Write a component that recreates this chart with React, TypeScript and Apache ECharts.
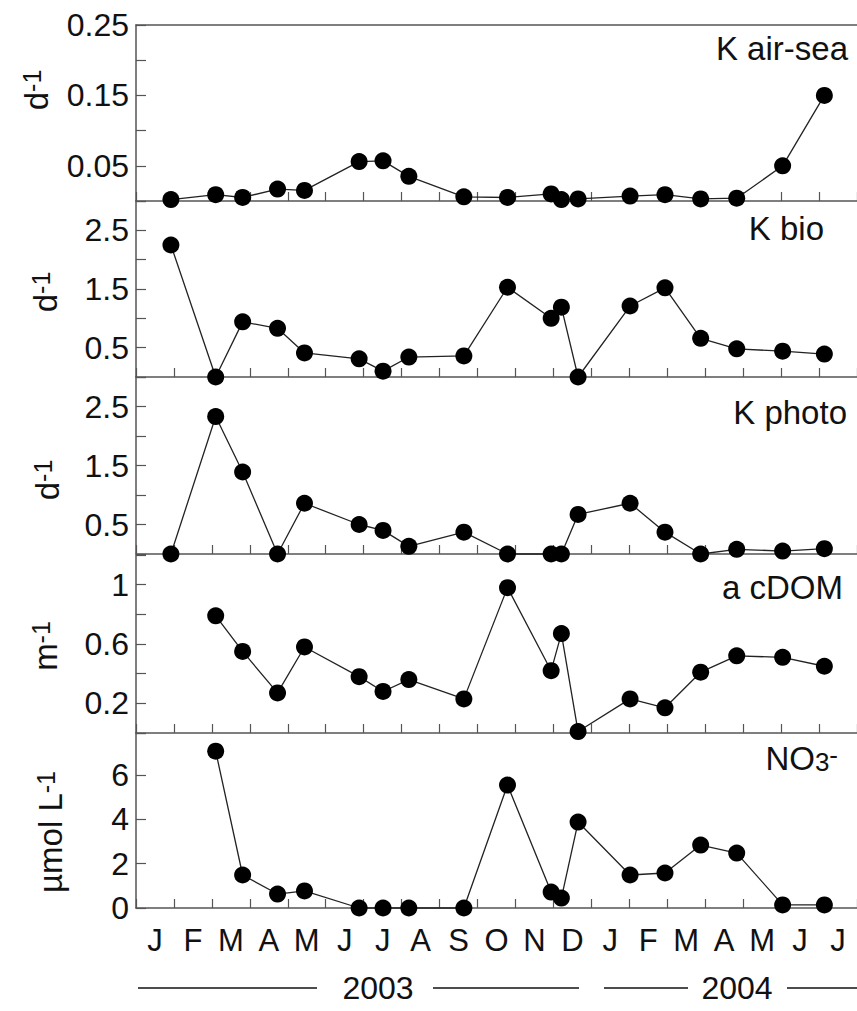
import React, { useEffect, useRef } from 'react';
import * as echarts from 'echarts';

// Month initials, Jan 2003 .. Jul 2004
const monthLabels = ['J', 'F', 'M', 'A', 'M', 'J', 'J', 'A', 'S', 'O', 'N', 'D', 'J', 'F', 'M', 'A', 'M', 'J', 'J'];
// Sampling dates, in months since 1 Jan 2003
const sampleMonths = [0.92, 2.1, 2.81, 3.73, 4.44, 5.88, 6.51, 7.19, 8.64, 9.79, 10.94, 11.21, 11.65, 13.02, 13.94, 14.88, 15.83, 17.04, 18.14];
const kAirSea = [0.002, 0.009, 0.005, 0.017, 0.015, 0.056, 0.057, 0.035, 0.006, 0.005, 0.01, 0.002, 0.003, 0.007, 0.009, 0.003, 0.004, 0.05, 0.15];
const kBio = [2.25, 0.0, 0.94, 0.83, 0.41, 0.31, 0.1, 0.34, 0.36, 1.53, 1.0, 1.19, 0.0, 1.21, 1.52, 0.66, 0.48, 0.44, 0.39];
const kPhoto = [0.0, 2.33, 1.39, 0.0, 0.86, 0.5, 0.4, 0.13, 0.37, 0.0, 0.0, 0.0, 0.67, 0.86, 0.37, 0.0, 0.08, 0.05, 0.09];
const aCDOM = [null, 0.79, 0.55, 0.27, 0.58, 0.38, 0.28, 0.36, 0.23, 0.98, 0.42, 0.67, 0.01, 0.23, 0.17, 0.41, 0.52, 0.51, 0.45];
const nitrate = [null, 7.08, 1.49, 0.63, 0.77, 0.0, 0.0, 0.0, 0.0, 5.55, 0.72, 0.45, 3.88, 1.49, 1.58, 2.84, 2.48, 0.14, 0.14];
const yearLabels = ['2003', '2004'];

const FONT = '"Liberation Sans", Arial, Helvetica, sans-serif';
const AXIS_COLOR = '#555';
const TEXT_COLOR = '#111';

const panels = [
  { values: kAirSea, top: 25, height: 176, max: 0.25, interval: 0.05, digits: 2, show: (k: number) => k % 2 === 1 },
  { values: kBio, top: 201, height: 176, max: 3, interval: 0.5, digits: 1, show: (k: number) => k % 2 === 1 },
  { values: kPhoto, top: 377, height: 177, max: 3, interval: 0.5, digits: 1, show: (k: number) => k % 2 === 1 },
  { values: aCDOM, top: 555, height: 178, max: 1.2, interval: 0.2, digits: 1, show: (k: number) => k % 2 === 1 },
  { values: nitrate, top: 733, height: 175, max: 7.9, interval: 2, digits: 0, show: (k: number) => k <= 3 },
];

const GRID_LEFT = 136;
const MONTH_W = 38.1;

export default function App() {
  const ref = useRef<HTMLDivElement>(null);
  useEffect(() => {
    if (!ref.current) return;
    const chart = echarts.init(ref.current, undefined, { renderer: 'svg' });

    const grids = panels.map((p) => ({ left: GRID_LEFT, top: p.top, height: p.height, width: MONTH_W * 19 }));

    const xAxes: any[] = panels.map((_, i) => ({
      gridIndex: i,
      type: 'value',
      min: 0,
      max: 19,
      interval: 1,
      axisLine: { show: true, lineStyle: { color: AXIS_COLOR, width: 1.5 } },
      axisTick: { show: true, inside: true, length: 9, lineStyle: { color: AXIS_COLOR, width: 1.2 } },
      axisLabel: { show: false },
      splitLine: { show: false },
    }));
    xAxes.push({
      gridIndex: 0,
      type: 'value',
      position: 'top',
      min: 0,
      max: 19,
      axisLine: { show: true, lineStyle: { color: AXIS_COLOR, width: 1.5 } },
      axisTick: { show: false },
      axisLabel: { show: false },
      splitLine: { show: false },
    });
    xAxes.push({
      gridIndex: 4,
      type: 'category',
      position: 'bottom',
      data: monthLabels,
      boundaryGap: true,
      axisLine: { show: false },
      axisTick: { show: false },
      axisLabel: { show: true, interval: 0, margin: 17, fontSize: 31, fontFamily: FONT, color: TEXT_COLOR },
    });

    const yAxes = panels.map((p, i) => ({
      gridIndex: i,
      type: 'value',
      min: 0,
      max: p.max,
      interval: p.interval,
      axisLine: { show: true, lineStyle: { color: AXIS_COLOR, width: 1.5 } },
      axisTick: { show: true, inside: true, length: 10, lineStyle: { color: AXIS_COLOR, width: 1.2 } },
      splitLine: { show: false },
      axisLabel: {
        show: true,
        margin: 7,
        fontSize: 32,
        fontFamily: FONT,
        color: TEXT_COLOR,
        formatter: (v: number) => {
          const k = Math.round(v / p.interval);
          if (Math.abs(v - k * p.interval) > 1e-6) return '';
          if (!p.show(k)) return '';
          if (i === 3 && k === 5) return '1';
          return v.toFixed(p.digits);
        },
      },
    }));

    const series = panels.map((p, i) => ({
      type: 'line',
      xAxisIndex: i,
      yAxisIndex: i,
      clip: false,
      symbol: 'circle',
      symbolSize: 17,
      itemStyle: { color: '#000' },
      lineStyle: { color: '#222', width: 1.3 },
      data: sampleMonths
        .map((m, j) => [m, p.values[j]])
        .filter((d) => d[1] !== null && d[1] !== undefined),
    }));

    const panelText = (text: string, x: number, y: number, rich?: any) => ({
      type: 'text',
      x,
      y,
      style: {
        text,
        fontSize: 33,
        fontFamily: FONT,
        fill: TEXT_COLOR,
        align: 'right',
        verticalAlign: 'middle',
        rich,
      },
    });

    const supRich = {
      a: { fontSize: 33, fontFamily: FONT, color: TEXT_COLOR, verticalAlign: 'bottom' },
      b: { fontSize: 25, fontFamily: FONT, color: TEXT_COLOR, verticalAlign: 'top' },
    };
    const axisName = (text: string, x: number, y: number) => ({
      type: 'text',
      x,
      y,
      rotation: Math.PI / 2,
      style: {
        text,
        fontFamily: FONT,
        fill: TEXT_COLOR,
        align: 'center',
        verticalAlign: 'middle',
        rich: supRich,
      },
    });

    const lineY = 988;
    const hLine = (x1: number, x2: number) => ({
      type: 'line',
      shape: { x1, y1: lineY, x2, y2: lineY },
      style: { stroke: '#111', lineWidth: 1.3 },
    });
    const yearText = (text: string, x: number) => ({
      type: 'text',
      x,
      y: lineY,
      style: { text, fontSize: 32, fontFamily: FONT, fill: TEXT_COLOR, align: 'center', verticalAlign: 'middle' },
    });

    const graphic = [
      panelText('K air-sea', 848, 48),
      panelText('K bio', 824, 228),
      panelText('K photo', 847, 412),
      panelText('a cDOM', 843, 587),
      panelText('{a|NO}{s|3}{t|-}', 838, 758, {
        a: { fontSize: 33, fontFamily: FONT, color: TEXT_COLOR, verticalAlign: 'bottom' },
        s: { fontSize: 26, fontFamily: FONT, color: TEXT_COLOR, verticalAlign: 'bottom' },
        t: { fontSize: 26, fontFamily: FONT, color: TEXT_COLOR, verticalAlign: 'top' },
      }),
      axisName('{a|d}{b|-1}', 36, 90),
      axisName('{a|d}{b|-1}', 45, 292),
      axisName('{a|d}{b|-1}', 47, 480),
      axisName('{a|m}{b|-1}', 45, 646),
      axisName('{a|µmol L}{b|-1}', 50, 832),
      hLine(138, 317),
      hLine(433, 579),
      hLine(604, 688),
      hLine(787, 857),
      yearText(yearLabels[0], 378),
      yearText(yearLabels[1], 737),
    ];

    chart.setOption({
      animation: false,
      backgroundColor: '#fff',
      grid: grids,
      xAxis: xAxes,
      yAxis: yAxes,
      series,
      graphic,
    });
    return () => chart.dispose();
  }, []);
  return <div ref={ref} style={{ position: 'absolute', left: 0, top: 0, width: 857, height: 1011 }} />;
}
